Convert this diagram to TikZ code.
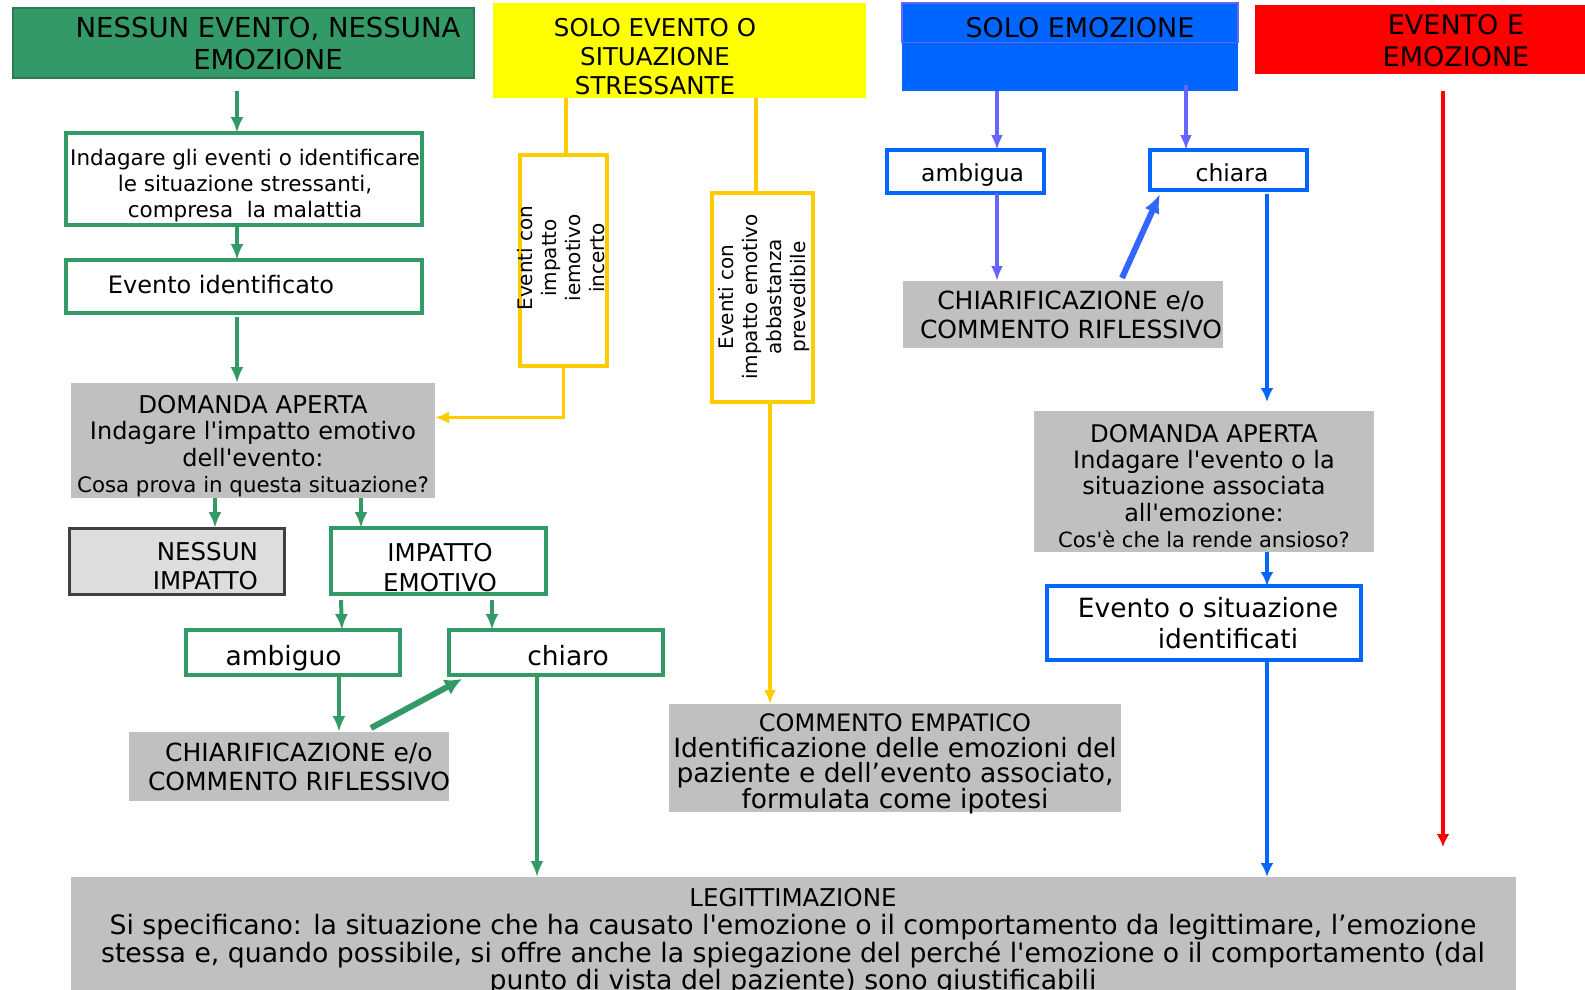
\documentclass[tikz,border=0pt]{standalone}
\usepackage{fontspec}
\setmainfont{DejaVu Sans}
\newfontfamily\dejavu{DejaVu Sans}
\usetikzlibrary{arrows.meta,calc,positioning}
\definecolor{color_green}{HTML}{339966}
\definecolor{color_green_dark}{HTML}{2A7D52}
\definecolor{color_yellow}{HTML}{FFFF00}
\definecolor{color_amber}{HTML}{FFCC00}
\definecolor{color_blue}{HTML}{0066FF}
\definecolor{color_periwinkle}{HTML}{6666FF}
\definecolor{color_blue_light}{HTML}{3366FF}
\definecolor{color_red}{HTML}{FF0000}
\definecolor{color_gray}{HTML}{C0C0C0}
\definecolor{color_gray_light}{HTML}{DDDDDD}
\definecolor{color_gray_dark}{HTML}{404040}
\newcommand{\fsz}[2]{\dejavu\fontsize{#1pt}{#2pt}\selectfont}

\begin{document}
\begin{tikzpicture}[x=1pt,y=-1pt,
	every node/.style={inner sep=0pt,outer sep=0pt,align=center,font=\fsz{24}{29}},
	sz/.style 2 args={minimum width=#1pt,minimum height=#2pt},
	head_green/.style={fill=color_green,draw=color_green_dark,line width=1.5pt},
	box_green/.style={draw=color_green,line width=4.5pt,fill=white},
	box_amber/.style={draw=color_amber,line width=4pt,fill=white},
	box_blue/.style={draw=color_blue,line width=4.5pt,fill=white},
	box_gray/.style={fill=color_gray},
	arr_green/.style={draw=color_green,line width=4pt,-{Latex[length=16pt,width=13pt]}},
	arr_green_thick/.style={draw=color_green,line width=6pt,-{Latex[length=17pt,width=17pt]}},
	line_amber/.style={draw=color_amber,line width=3.5pt},
	arr_amber/.style={line_amber,-{Latex[length=14pt,width=12pt]}},
	arr_peri/.style={draw=color_periwinkle,line width=3.5pt,-{Latex[length=15pt,width=12pt]}},
	arr_blue/.style={draw=color_blue,line width=3.5pt,-{Latex[length=14pt,width=13pt]}},
	arr_blue_thick/.style={draw=color_blue_light,line width=6pt,-{Latex[length=19pt,width=16pt]}},
	arr_red/.style={draw=color_red,line width=3.5pt,-{Latex[length=13pt,width=13pt]}}]
	\useasboundingbox (0,0) rectangle (1585,990);

	% Headers
	\node[head_green,sz={461}{70}] (hdr_none) at (243.5,43) {};
	\node[font=\fsz{27.5}{32.5}] (txt_none) at (268,43.5) {NESSUN EVENTO, NESSUNA\\EMOZIONE};
	\node[fill=color_yellow,sz={373}{95}] (hdr_stress) at (679.5,50.5) {};
	\node[font=\fsz{24.5}{29}] (txt_stress) at (655,56.6) {SOLO EVENTO O\\SITUAZIONE\\STRESSANTE};
	\node[fill=color_blue,sz={336}{88}] (hdr_emo) at (1070,47) {};
	\draw[color_periwinkle,line width=1.5pt]
		(hdr_emo.north west) rectangle ($(hdr_emo.north east)+(0,39.5)$);
	\node[font=\fsz{27}{32}] (txt_emo) at (1080,27.3) {SOLO EMOZIONE};
	\node[fill=color_red,sz={330}{69}] (hdr_both) at (1420,39.5) {};
	\node[font=\fsz{27}{32}] (txt_both) at (1456,40.5) {EVENTO E\\EMOZIONE};

	% Green branch
	\node[box_green,sz={356}{92}] (box_probe) at (244,179) {};
	\node[font=\fsz{21.5}{26}] (txt_probe) at (245,185.5)
		{Indagare gli eventi o identificare\\le situazione stressanti,\\compresa\ \ la malattia};
	\node[box_green,sz={356}{53}] (box_event) at (244,286.5) {};
	\node[font=\fsz{24}{29}] (txt_event) at (221,285) {Evento identificato};
	\node[box_gray,sz={364}{115}] (ask_impact) at (253,440.5) {};
	\node[font=\fsz{24}{26.5}] (txt_ask_impact) at (253,446)
		{\fsz{24.5}{26.5}DOMANDA APERTA\\\fsz{24}{26.5}Indagare l'impatto emotivo\\\fsz{24}{26.5}dell'evento:\\\fsz{21.3}{26.5}Cosa prova in questa situazione?};
	\node[fill=color_gray_light,draw=color_gray_dark,line width=3pt,sz={215}{66}] (no_impact) at (176.5,561) {};
	\node[anchor=east,align=right,font=\fsz{24.5}{29}] (txt_no_impact) at (258,566.5) {NESSUN\\IMPATTO};
	\node[box_green,sz={215}{66}] (impact) at (438.5,561) {};
	\node[font=\fsz{24.5}{30}] (txt_impact) at (440,568) {IMPATTO\\EMOTIVO};
	\node[box_green,sz={214}{45}] (amb_g) at (293,652.5) {};
	\node[font=\fsz{26.5}{30}] (txt_amb_g) at (283.6,658) {ambiguo};
	\node[box_green,sz={214}{45}] (clr_g) at (556,652.5) {};
	\node[font=\fsz{26.5}{30}] (txt_clr_g) at (568,656) {chiaro};
	\node[box_gray,sz={320}{69}] (refl_g) at (289,766.5) {};
	\node[font=\fsz{25}{29.5}] (txt_refl_g) at (299,767) {CHIARIFICAZIONE e/o\\COMMENTO RIFLESSIVO};

	\draw[arr_green] ($(hdr_none.south)+(-6.5,13)$) -- ($(box_probe.north)+(-7,0)$);
	\draw[arr_green] ($(box_probe.south)+(-7,0)$) -- ($(box_event.north)+(-7,0)$);
	\draw[arr_green] ($(box_event.south)+(-7,4)$) -- ($(ask_impact.north)+(-16,0)$);
	\draw[arr_green] ($(ask_impact.south)+(-38,0)$) -- ($(no_impact.north)+(38.5,0)$);
	\draw[arr_green] ($(ask_impact.south)+(108,0)$) -- ($(impact.north)+(-77.5,0)$);
	\draw[arr_green] ($(impact.south)+(-97.5,6)$) -- ($(amb_g.north)+(49,0)$);
	\draw[arr_green] ($(impact.south)+(53.5,6)$) -- ($(clr_g.north)+(-64,0)$);
	\draw[arr_green] ($(amb_g.south)+(46,0)$) -- ($(refl_g.north)+(50,0)$);
	\draw[arr_green_thick] ($(refl_g.north)+(82,-4)$) -- ($(clr_g.south west)+(13,4)$);

	% Yellow branch
	\node[box_amber,sz={87}{211}] (unc) at (563.5,260.5) {};
	\node[rotate=90,font=\fsz{20}{24}] (txt_unc) at (561,258) {Eventi con\\impatto\\iemotivo\\incerto};
	\node[box_amber,sz={101}{209}] (pred) at (762.5,297.5) {};
	\node[rotate=90,font=\fsz{20}{24}] (txt_pred) at (764,297) {Eventi con\\impatto emotivo\\abbastanza\\prevedibile};
	\node[box_gray,sz={452}{108}] (empath) at (895,758) {};
	\node[font=\fsz{26.5}{24.5}] (txt_empath) at (895,764)
		{\fsz{24}{26}COMMENTO EMPATICO\\[2pt]\fsz{26.5}{24.5}Identificazione delle emozioni del\\\fsz{26.5}{24.5}paziente e dell’evento associato,\\\fsz{26.5}{24.5}formulata come ipotesi};

	\draw[line_amber] ($(hdr_stress.south)+(-113.5,0)$) -- ($(unc.north)+(2.5,0)$);
	\draw[line_amber] ($(hdr_stress.south)+(76.5,0)$) -- ($(pred.north)+(-6.5,0)$);
	\draw[arr_amber] (unc.south) |- ($(ask_impact.east)+(0,-23)$);
	\draw[arr_amber] ($(pred.south)+(7.5,0)$) -- ($(empath.north)+(-125,0)$);

	% Blue branch
	\node[box_blue,sz={157}{43}] (amb_b) at (965.5,171.5) {};
	\node[font=\fsz{23.5}{28}] (txt_amb_b) at (972.6,175) {ambigua};
	\node[box_blue,sz={157}{40}] (clr_b) at (1228.5,170) {};
	\node[font=\fsz{23.5}{28}] (txt_clr_b) at (1232,173) {chiara};
	\node[box_gray,sz={320}{67}] (refl_b) at (1063,314.5) {};
	\node[font=\fsz{25}{29.5}] (txt_refl_b) at (1071,315) {CHIARIFICAZIONE e/o\\COMMENTO RIFLESSIVO};
	\node[box_gray,sz={340}{141}] (ask_event) at (1204,481.5) {};
	\node[font=\fsz{24}{26.3}] (txt_ask_event) at (1204,486)
		{\fsz{24.3}{26.3}DOMANDA APERTA\\\fsz{24}{26.3}Indagare l'evento o la\\\fsz{24}{26.3}situazione associata\\\fsz{24}{26.3}all'emozione:\\\fsz{21}{26.3}Cos'è che la rende ansioso?};
	\node[box_blue,sz={314}{74}] (found) at (1204,623) {};
	\node[font=\fsz{26.5}{31}] (txt_found) at (1208,623.5) {Evento o situazione\\\hspace*{40pt}identificati};

	\draw[arr_peri] ($(hdr_emo.south)+(-73,0)$) -- ($(amb_b.north)+(31.5,0)$);
	\draw[arr_peri] ($(hdr_emo.south)+(116,-6)$) -- ($(clr_b.north)+(-42.5,0)$);
	\draw[arr_peri] ($(amb_b.south)+(31.5,0)$) -- ($(refl_b.north)+(-66,0)$);
	\draw[arr_blue_thick] ($(refl_b.north)+(59,-3)$) -- ($(clr_b.south west)+(10,4)$);
	\draw[arr_blue] ($(clr_b.south)+(38.5,4)$) -- ($(ask_event.north)+(63,-9)$);
	\draw[arr_blue] ($(ask_event.south)+(63,0)$) -- ($(found.north)+(63,0)$);

	% Bottom box
	\node[box_gray,sz={1445}{125}] (legit) at (793.5,939.5) {};
	\node[anchor=north,font=\fsz{26.7}{26.5}] (txt_legit) at (793,888)
		{\fsz{24.5}{26}LEGITTIMAZIONE\\[2pt]\fsz{26.7}{26.5}Si specificano: la situazione che ha causato l'emozione o il comportamento da legittimare, l’emozione\\\fsz{26.7}{26.5}stessa e, quando possibile, si offre anche la spiegazione del perché l'emozione o il comportamento (dal\\\fsz{26.7}{26.5}punto di vista del paziente) sono giustificabili};

	\draw[arr_green] ($(clr_g.south)+(-19,0)$) -- ($(legit.north)+(-256.5,0)$);
	\draw[arr_blue] ($(found.south)+(63,0)$) -- ($(legit.north)+(473.5,0)$);
	\draw[arr_red] ($(hdr_both.south)+(23,17)$) -- ($(legit.north)+(649.5,-30)$);
\end{tikzpicture}
\end{document}
